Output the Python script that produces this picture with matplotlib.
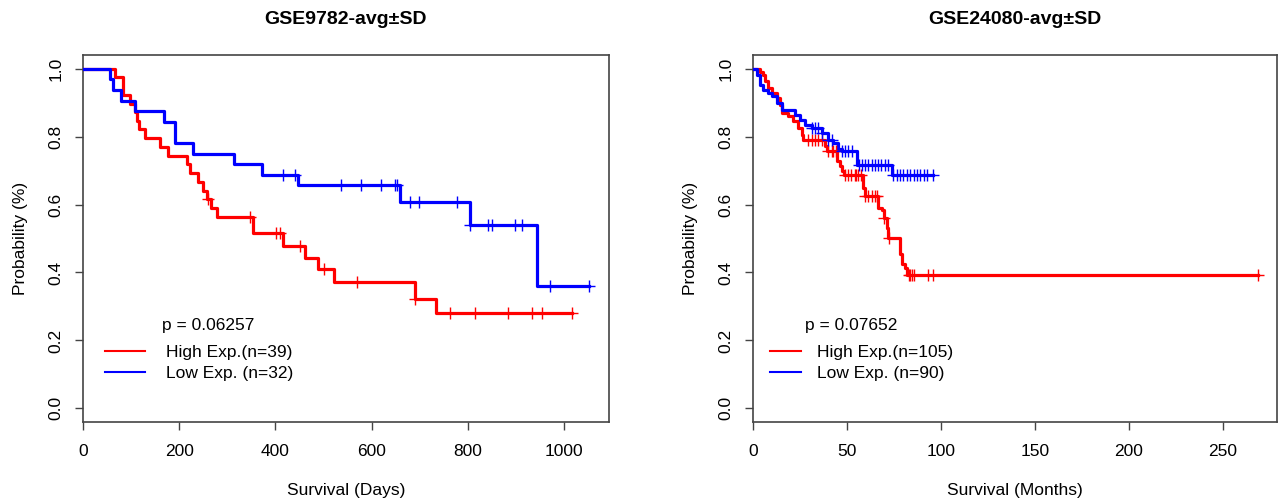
import numpy as np
import matplotlib.pyplot as plt
from matplotlib.lines import Line2D

plt.rcParams['font.family'] = ['Liberation Sans', 'DejaVu Sans']

# GSE9782 (days): step times / survival levels
gse9782_high_t = [0, 66, 83, 97, 108, 113, 117, 129, 160, 177, 216, 222, 240, 250,
                  257, 267, 278, 354, 416, 461, 489, 522, 690, 733]
gse9782_high_s = [1.0, 0.974, 0.923, 0.897, 0.872, 0.846, 0.821, 0.795, 0.769, 0.744,
                  0.718, 0.692, 0.667, 0.641, 0.615, 0.590, 0.564, 0.515, 0.477, 0.443,
                  0.409, 0.373, 0.323, 0.282]
gse9782_high_end = 1016
gse9782_high_cens = [260, 347, 402, 409, 451, 501, 569, 690, 763, 815, 884, 933, 954, 1016]

gse9782_low_t = [0, 56, 63, 80, 108, 168, 191, 229, 314, 373, 447, 659, 805, 944]
gse9782_low_s = [1.0, 0.969, 0.938, 0.906, 0.875, 0.844, 0.781, 0.75, 0.719, 0.688,
                 0.656, 0.606, 0.539, 0.359]
gse9782_low_end = 1052
gse9782_low_cens = [416, 441, 536, 577, 619, 649, 653, 680, 699, 778, 805, 842, 850,
                    898, 912, 971, 1052]

# GSE24080 (months)
gse24080_high_t = [0, 3.7, 5.5, 6.4, 8.2, 9.9, 12.6, 14.4, 15.3, 18.8, 21.5, 24.2, 25.9,
                   26.8, 38.4, 39.3, 44.6, 46.4, 47.3, 48.2, 58.8, 59.7, 66.8, 68.6, 69.5,
                   71.2, 72.1, 78.4, 79.2, 81.0, 81.9]
gse24080_high_s = [1.0, 0.99, 0.982, 0.963, 0.943, 0.928, 0.914, 0.894, 0.869, 0.86,
                   0.845, 0.825, 0.806, 0.791, 0.771, 0.757, 0.727, 0.713, 0.698, 0.686,
                   0.649, 0.624, 0.59, 0.585, 0.561, 0.531, 0.502, 0.453, 0.424, 0.414,
                   0.394]
gse24080_high_end = 269
gse24080_high_cens = [29.5, 31.3, 33.0, 34.8, 36.6, 40.2, 41.9, 42.8, 44.0, 48.9, 50.6,
                      52.4, 54.2, 55.1, 56.0, 57.7, 59.7, 61.4, 63.2, 64.9, 66.0, 70.0,
                      72.5, 82.8, 83.7, 84.6, 85.5, 93.4, 96.1, 269]

gse24080_low_t = [0, 2.0, 3.7, 5.5, 8.2, 9.9, 12.6, 15.3, 22.4, 25.1, 27.7, 31.3, 36.6,
                  40.2, 42.8, 45.5, 47.3, 55.3, 73.9]
gse24080_low_s = [1.0, 0.982, 0.953, 0.938, 0.928, 0.918, 0.899, 0.879, 0.864, 0.85,
                  0.835, 0.825, 0.81, 0.791, 0.781, 0.762, 0.757, 0.717, 0.686]
gse24080_low_end = 96.1
gse24080_low_cens = [31.3, 33.0, 34.8, 36.6, 40.2, 41.9, 47.3, 49.1, 50.8, 52.6, 56.2,
                     57.9, 59.7, 61.4, 63.2, 64.9, 66.7, 68.4, 70.2, 72.0, 74.8, 76.6,
                     78.4, 80.1, 81.9, 83.7, 85.5, 87.2, 89.0, 90.8, 92.5, 96.1]

RED = '#ff0000'
BLUE = '#0000ff'


def km(ax, t, s, end, cens, color):
    tt = list(t) + [end]
    ss = list(s) + [s[-1]]
    ax.step(tt, ss, where='post', color=color, lw=2.3, zorder=3)
    ci = np.searchsorted(t, cens, side='right') - 1
    cy = np.array(s)[ci]
    ax.plot(cens, cy, ls='none', marker='|', ms=9, mew=1.0, color=color, zorder=4)
    ax.plot(cens, cy, ls='none', marker='_', ms=9, mew=1.0, color=color, zorder=4)


def style(ax, xmax, xticks, xlabel, title):
    ax.set_xlim(0, xmax)
    ax.set_ylim(-0.04, 1.04)
    ax.set_xticks(xticks)
    ax.set_yticks([0, 0.2, 0.4, 0.6, 0.8, 1.0])
    ax.set_yticklabels(['0.0', '0.2', '0.4', '0.6', '0.8', '1.0'], rotation=90, va='center')
    ax.tick_params(direction='out', length=6, width=1, color='#444444', labelsize=12.5)
    ax.tick_params(axis='x', pad=10)
    ax.tick_params(axis='y', pad=8)
    for sp in ax.spines.values():
        sp.set_color('#444444')
        sp.set_linewidth(1.2)
    ax.set_xlabel(xlabel, fontsize=12.5, labelpad=17)
    ax.set_ylabel('Probability (%)', fontsize=12.5, labelpad=15)
    ax.set_title(title, fontsize=14, fontweight='bold', pad=22)


fig = plt.figure(figsize=(12.78, 5), dpi=100)
ax1 = fig.add_axes([0.0649, 0.156, 0.4116, 0.734])
ax2 = fig.add_axes([0.5892, 0.156, 0.410, 0.734])

km(ax1, gse9782_high_t, gse9782_high_s, gse9782_high_end, gse9782_high_cens, RED)
km(ax1, gse9782_low_t, gse9782_low_s, gse9782_low_end, gse9782_low_cens, BLUE)
style(ax1, 1093, [0, 200, 400, 600, 800, 1000], 'Survival (Days)', 'GSE9782-avg\u00b1SD')

km(ax2, gse24080_high_t, gse24080_high_s, gse24080_high_end, gse24080_high_cens, RED)
km(ax2, gse24080_low_t, gse24080_low_s, gse24080_low_end, gse24080_low_cens, BLUE)
style(ax2, 279, [0, 50, 100, 150, 200, 250], 'Survival (Months)', 'GSE24080-avg\u00b1SD')

for ax, p, px, lx, n1, n2, hl, tp in [
        (ax1, 'p = 0.06257', 0.150, 0.042, 39, 32, 2.3, 1.2),
        (ax2, 'p = 0.07652', 0.099, 0.032, 105, 90, 1.8, 0.9)]:
    ax.text(px, 0.264, p, transform=ax.transAxes, fontsize=12.5, va='center')
    handles = [Line2D([], [], color=RED, lw=1.5), Line2D([], [], color=BLUE, lw=1.5)]
    ax.legend(handles, ['High Exp.(n=%d)' % n1, 'Low Exp. (n=%d)' % n2],
              loc='upper left', bbox_to_anchor=(lx, 0.211),
              frameon=False, fontsize=12.5, handlelength=hl, handletextpad=tp,
              labelspacing=0.35, borderpad=0, borderaxespad=0)

fig.savefig('out.png', dpi=100)
